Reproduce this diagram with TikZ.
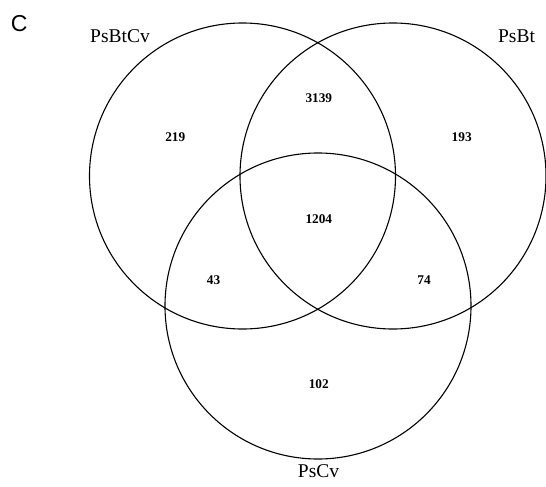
\documentclass[tikz,border=0pt]{standalone}
\usepackage{fontspec}
\setmainfont{Liberation Serif}
\newfontfamily\panelfont{Liberation Sans}
\usetikzlibrary{positioning}

\begin{document}
\begin{tikzpicture}[x=1pt,y=-1pt]
		\useasboundingbox (0,0) rectangle (546,487);
		\begin{scope}[every node/.style={circle,draw,line width=1.1pt,inner sep=0pt,minimum size=306pt}]
			\node (btcv) at (242.5,176) {};
			\node (bt) at (393,176) {};
			\node (cv) at (318,306) {};
		\end{scope}

		\begin{scope}[every node/.style={font=\fontsize{19.5}{20}\selectfont}]
			\node (nbtcv) at (120,36) {PsBtCv};
			\node (nbt) at (516.5,36) {PsBt};
			\node (ncv) at (318.5,471) {PsCv};
		\end{scope}

		\begin{scope}[every node/.style={font=\fontsize{13.3}{14}\selectfont\bfseries}]
			\node (a) at (175.3,136.7) {219};
			\node (b) at (461.7,136.7) {193};
			\node (ab) at (318.8,97.7) {3139};
			\node (abc) at (318.8,219.3) {1204};
			\node (ac) at (213.6,280) {43};
			\node (bc) at (424,280) {74};
			\node (c) at (318.8,384.3) {102};
		\end{scope}

		\node[font=\panelfont\fontsize{23}{24}\selectfont] (panel) at (19.2,24) {C};
	\end{tikzpicture}
\end{document}
